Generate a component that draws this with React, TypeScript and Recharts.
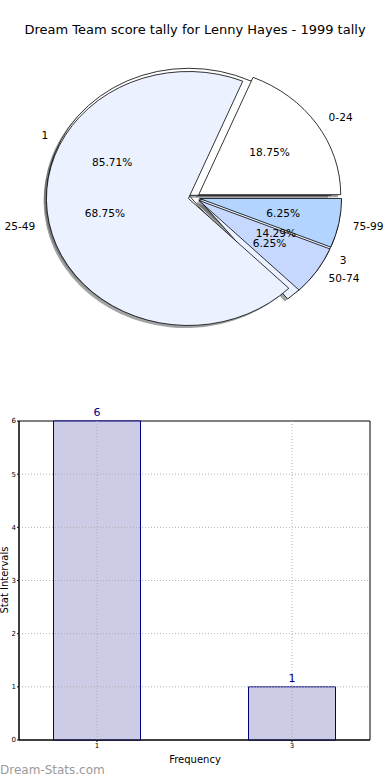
import React from 'react';
import { PieChart, Pie, BarChart, Bar, XAxis, YAxis, LabelList, ReferenceLine, ReferenceArea } from 'recharts';

// ---- data ----
const scoreBands = ['0-24', '25-49', '50-74', '75-99'];
const scoreCounts = [3, 11, 1, 1];
const freqLabels = ['1', '3'];
const freqCounts = [6, 1];
const barFrequency = [1, 3];
const barCounts = [6, 1];
const yTicks = [0, 1, 2, 3, 4, 5, 6];
const xTicks = [1, 3];

const scoreColors = ['#ffffff', '#ebf1fe', '#c6d8fe', '#b3d4fe'];
const freqColors = ['#ffffff', '#ebf1fe'];

const scoreData = scoreBands.map((name, i) => ({ name, value: scoreCounts[i], fill: scoreColors[i] }));
const freqData = freqLabels.map((name, i) => ({ name, value: freqCounts[i], fill: freqColors[i] }));
const barData = barFrequency.map((x, i) => ({ x, y: barCounts[i] }));

// ---- pie geometry ----
const RX = 142;
const RY = 127;
const CX = 194;
const CY = 197.5;
const EXPLODE = 0.04;
const FONT = 'DejaVu Sans, Verdana, sans-serif';

const rad = (d: number) => (d * Math.PI) / 180;

function wedgePath(cx: number, cy: number, s: number, e: number) {
  const x1 = cx + RX * Math.cos(rad(s));
  const y1 = cy - RY * Math.sin(rad(s));
  const x2 = cx + RX * Math.cos(rad(e));
  const y2 = cy - RY * Math.sin(rad(e));
  const large = e - s > 180 ? 1 : 0;
  return `M${cx},${cy} L${x1},${y1} A${RX},${RY} 0 ${large} 0 ${x2},${y2} Z`;
}

function makeShape(kind: 'wedge' | 'shadow' | 'none') {
  return (props: any) => {
    if (kind === 'none') return <g />;
    const { cx, cy, startAngle, endAngle, fill } = props;
    const s = Math.min(startAngle, endAngle);
    const e = Math.max(startAngle, endAngle);
    const mid = (s + e) / 2;
    let dx = EXPLODE * RX * Math.cos(rad(mid));
    let dy = -EXPLODE * RY * Math.sin(rad(mid));
    if (kind === 'shadow') {
      dx += -0.02 * RX;
      dy += 0.02 * RY;
      return <path d={wedgePath(cx + dx, cy + dy, s, e)} fill="rgb(70,72,76)" fillOpacity={0.5} stroke="none" />;
    }
    return <path d={wedgePath(cx + dx, cy + dy, s, e)} fill={fill} stroke="#000" strokeWidth={0.8} strokeLinejoin="miter" />;
  };
}

const renderLabel = (props: any) => {
  const { cx, cy, midAngle, name, percent } = props;
  const c = Math.cos(rad(midAngle));
  const sn = Math.sin(rad(midAngle));
  const ox = cx + EXPLODE * RX * c;
  const oy = cy - EXPLODE * RY * sn;
  const lx = ox + 1.1 * RX * c;
  const ly = oy - 1.1 * RY * sn;
  const px = ox + 0.6 * RX * c;
  const py = oy - 0.6 * RY * sn;
  return (
    <g>
      <text x={lx} y={ly} textAnchor={c >= 0 ? 'start' : 'end'} dominantBaseline="central" fontSize={10.6} fontFamily={FONT} fill="#000">
        {name}
      </text>
      <text x={px} y={py} textAnchor="middle" dominantBaseline="central" fontSize={10.6} fontFamily={FONT} fill="#000">
        {(percent * 100).toFixed(2) + '%'}
      </text>
    </g>
  );
};

export default function App() {
  const wedge = makeShape('wedge');
  const shadow = makeShape('shadow');
  const none = makeShape('none');
  const common = {
    dataKey: 'value',
    nameKey: 'name',
    cx: CX,
    cy: CY,
    outerRadius: RX,
    innerRadius: 0,
    startAngle: 0,
    endAngle: 360,
    isAnimationActive: false,
    labelLine: false,
  } as any;
  return (
    <div style={{ position: 'absolute', left: 0, top: 0, width: 390, height: 780, background: '#fff', fontFamily: FONT, overflow: 'hidden' }}>
      <div style={{ position: 'absolute', left: 0, top: 22, width: 390, textAlign: 'center', fontSize: 13, lineHeight: '16px', color: '#000' }}>
        Dream Team score tally for Lenny Hayes - 1999 tally
      </div>
      <div style={{ position: 'absolute', left: 0, top: 0 }}>
        <PieChart width={390} height={380} margin={{ top: 0, right: 0, bottom: 0, left: 0 }}>
          <Pie {...common} data={freqData} shape={shadow} activeShape={shadow} inactiveShape={shadow} label={false} stroke="none" />
          <Pie {...common} data={scoreData} shape={shadow} activeShape={shadow} inactiveShape={shadow} label={false} stroke="none" />
          <Pie {...common} data={freqData} shape={wedge} activeShape={wedge} inactiveShape={wedge} label={false} />
          <Pie {...common} data={scoreData} shape={wedge} activeShape={wedge} inactiveShape={wedge} label={renderLabel} />
          <Pie {...common} data={freqData} shape={none} activeShape={none} inactiveShape={none} label={renderLabel} stroke="none" />
        </PieChart>
      </div>
      <div style={{ position: 'absolute', left: 0, top: 400 }}>
        <BarChart width={390} height={380} data={barData} margin={{ top: 21, right: 20, bottom: 20, left: 0 }}>
          <XAxis
            dataKey="x"
            type="number"
            domain={[0.2, 3.8]}
            ticks={xTicks}
            allowDataOverflow
            height={20}
            tickSize={2}
            tickMargin={1}
            tick={{ fontSize: 7, fill: '#000', fontFamily: FONT }}
            axisLine={{ stroke: '#000' }}
            tickLine={{ stroke: '#000' }}
          />
          <YAxis
            type="number"
            domain={[0, 6]}
            ticks={yTicks}
            width={19}
            tickSize={2}
            tickMargin={1}
            tick={{ fontSize: 7, fill: '#000', fontFamily: FONT }}
            axisLine={{ stroke: '#000' }}
            tickLine={{ stroke: '#000' }}
          />
          <Bar dataKey="y" fill="#ccccE6" stroke="#000080" strokeWidth={1} barSize={87} isAnimationActive={false}>
            <LabelList dataKey="y" position="top" fill="#000080" fontSize={11} fontFamily={FONT} />
          </Bar>
          {yTicks.slice(1, -1).map((t) => (
            <ReferenceLine key={'y' + t} y={t} stroke="#b0b0b0" strokeDasharray="1 2" />
          ))}
          {xTicks.map((t) => (
            <ReferenceLine key={'x' + t} x={t} stroke="#b0b0b0" strokeDasharray="1 2" />
          ))}
          <ReferenceArea x1={0.2} x2={3.8} y1={0} y2={6} fill="none" stroke="#000" strokeWidth={1} />
        </BarChart>
      </div>
      <div style={{ position: 'absolute', left: 0, top: 754, width: 390, textAlign: 'center', fontSize: 10, lineHeight: '12px', color: '#000' }}>
        Frequency
      </div>
      <div style={{ position: 'absolute', left: -45.5, top: 574, width: 100, height: 12, textAlign: 'center', fontSize: 10, lineHeight: '12px', color: '#000', transform: 'rotate(-90deg)', whiteSpace: 'nowrap' }}>
        Stat Intervals
      </div>
      <div style={{ position: 'absolute', left: 0, top: 763, fontSize: 12, lineHeight: '14px', color: '#9a9a9a', whiteSpace: 'nowrap' }}>
        Dream-Stats.com
      </div>
    </div>
  );
}
